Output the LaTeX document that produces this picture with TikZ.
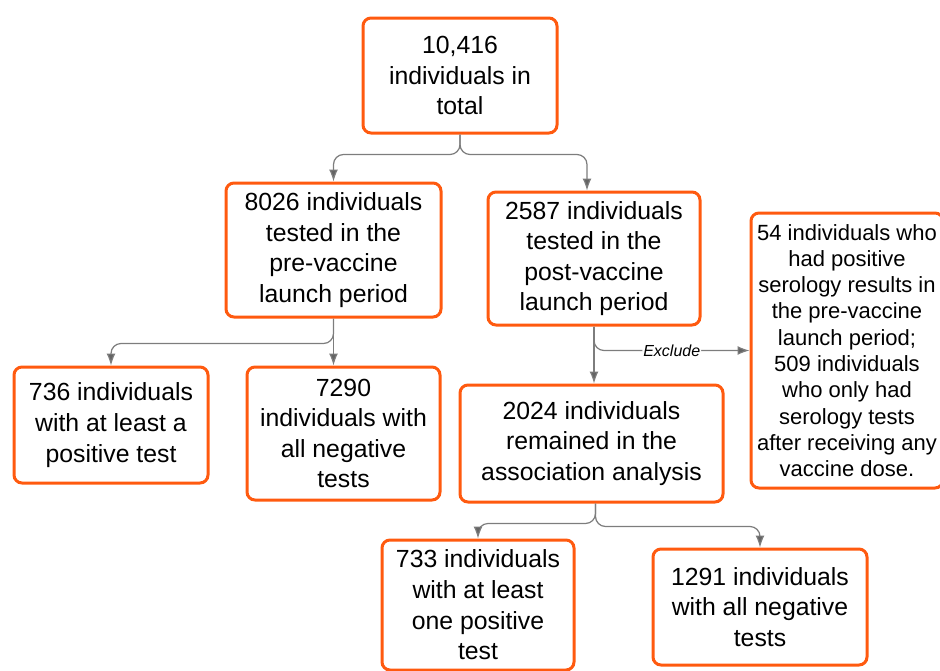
\documentclass[tikz,border=0pt]{standalone}
\usepackage{fontspec}
\setmainfont{Liberation Sans}
\usepackage{tikz}
\usetikzlibrary{arrows.meta}
\usetikzlibrary{positioning}
\usetikzlibrary{calc}
\definecolor{boxorange}{HTML}{FF5A0F}
\definecolor{linkgray}{HTML}{7D7D7D}
\definecolor{tipgray}{HTML}{646464}
\tikzset{every picture/.style={x=1pt,y=-1pt},
  stagebox/.style={draw=boxorange,line width=3pt,rounded corners=8pt,fill=white,align=center,inner sep=0pt,font=\fontsize{24.8}{30.6}\selectfont},
  smallbox/.style={stagebox,font=\fontsize{22}{26.3}\selectfont},
  link/.style={draw=linkgray,line width=1.2pt,rounded corners=10pt,-{Latex[length=12pt,width=9pt,fill=tipgray]}},
  linklabel/.style={fill=white,inner sep=1pt,font=\fontsize{16}{18}\itshape\selectfont}}

\begin{document}
\begin{tikzpicture}
\useasboundingbox (0,0) rectangle (940,670);
\clip (0,0) rectangle (940,670);
\node[stagebox,minimum width=194,minimum height=115] (total) at (460,75.5) {10,416\\individuals in\\total};
\node[stagebox,minimum width=215,minimum height=134] (pre) at (333.5,250) {8026 individuals\\tested in the\\pre-vaccine\\launch period};
\node[stagebox,minimum width=212,minimum height=133] (post) at (594,258.5) {2587 individuals\\tested in the\\post-vaccine\\launch period};
\node[smallbox,minimum width=192,minimum height=275] (excl) at (847,350.5) {54 individuals who\\had positive\\serology results in\\the pre-vaccine\\launch period;\\509 individuals\\who only had\\serology tests\\after receiving any\\vaccine dose.};
\node[stagebox,minimum width=194,minimum height=116] (pos1) at (111,425) {736 individuals\\with at least a\\positive test};
\node[stagebox,minimum width=193,minimum height=133] (neg1) at (343.5,433.5) {7290\\individuals with\\all negative\\tests};
\node[stagebox,minimum width=263,minimum height=117] (kept) at (591.5,443.5) {2024 individuals\\remained in the\\association analysis};
\node[stagebox,minimum width=192,minimum height=130] (pos2) at (478,605) {733 individuals\\with at least\\one positive\\test};
\node[stagebox,minimum width=214,minimum height=116] (neg2) at (760,607) {1291 individuals\\with all negative\\tests};
% split of the whole cohort
\draw[link] (total.south) -- ++(0,20) -| (pre.north);
\draw[link] (total.south) -- ++(0,20) -| ([xshift=-7]post.north);
% pre-vaccine period
\draw[link] (pre.south) -- ++(0,25) -| (pos1.north);
\draw[link] (pre.south) -- (pre.south |- neg1.north);
% post-vaccine period
\draw[link] (post.south) -- (post.south |- kept.north);
\draw[link] (post.south) |- (excl.west) node[linklabel,pos=0.75] {Exclude};
% association analysis
\draw[link] ([xshift=4]kept.south) -- ++(0,20) -| (pos2.north);
\draw[link] ([xshift=4]kept.south) -- ++(0,23) -| (neg2.north);
\end{tikzpicture}
\end{document}
